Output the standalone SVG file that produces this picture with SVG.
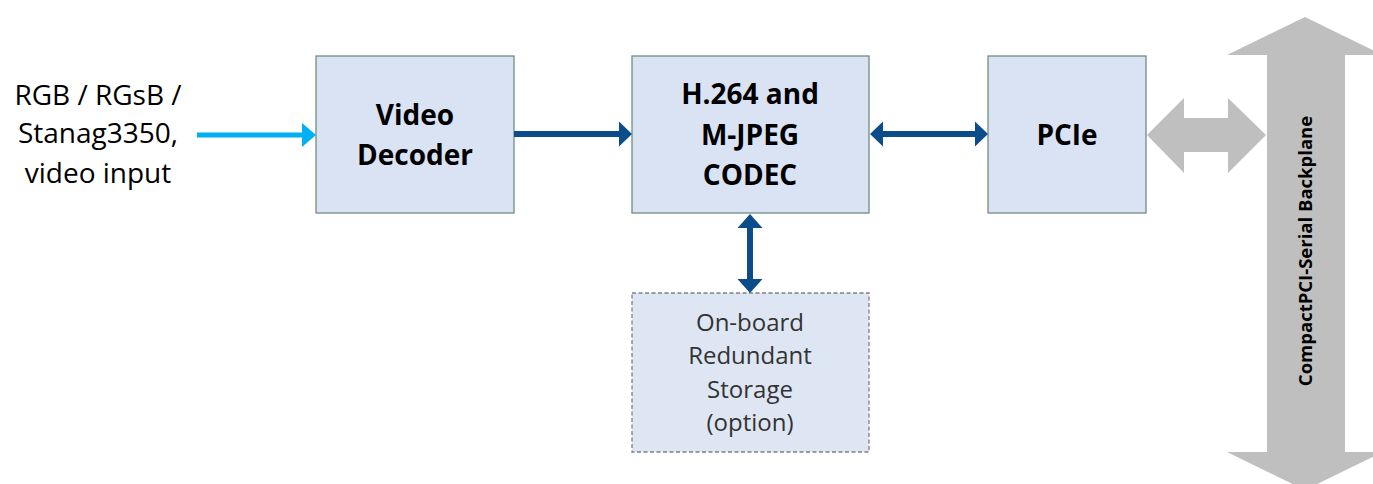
<svg xmlns="http://www.w3.org/2000/svg" width="1373" height="484" viewBox="0 0 1373 484">
<style>
.box{fill:#dae3f3;stroke:#6e8f80;stroke-width:1.3}
.opt{fill:#dfe6f3;stroke:#808080;stroke-width:1.3;stroke-dasharray:4 2.5}
.b{font-family:"Open Sans","Liberation Sans",sans-serif;font-weight:bold;font-size:28px;fill:#000;text-anchor:middle}
.r{font-family:"Open Sans","Liberation Sans",sans-serif;font-size:28px;fill:#000;text-anchor:middle}
.s{font-family:"Open Sans","Liberation Sans",sans-serif;font-size:24px;fill:#333;text-anchor:middle}
.bp{font-family:"Open Sans","Liberation Sans",sans-serif;font-weight:bold;font-size:18.5px;fill:#000;text-anchor:middle}
.dk{stroke:#0b4d8a;stroke-width:6;fill:none}
.hd{fill:#0b4d8a}
.gr{fill:#bfbfbf}
</style>
<g id="backplane">
<polygon class="gr" points="1305,17 1383,55 1345,55 1345,452 1383,452 1305,490 1227,452 1267,452 1267,55 1227,55"/>
<text class="bp" transform="translate(1312,251) rotate(-90)">CompactPCI-Serial Backplane</text>
</g>
<g id="input-label">
<text class="r" x="98" y="105">RGB / RGsB /</text>
<text class="r" x="98" y="143">Stanag3350,</text>
<text class="r" x="98" y="183">video input</text>
</g>
<g id="video-decoder">
<rect class="box" x="316" y="56" width="198" height="157"/>
<text class="b" x="415" y="125">Video</text>
<text class="b" x="415" y="165">Decoder</text>
</g>
<g id="codec">
<rect class="box" x="632" y="56" width="237" height="157"/>
<text class="b" x="750" y="104">H.264 and</text>
<text class="b" x="750" y="145">M-JPEG</text>
<text class="b" x="750" y="185">CODEC</text>
</g>
<g id="pcie">
<rect class="box" x="988" y="56" width="158" height="157"/>
<text class="b" x="1067" y="145">PCIe</text>
</g>
<g id="storage">
<rect class="opt" x="632" y="293" width="237" height="159"/>
<text class="s" x="750" y="331">On-board</text>
<text class="s" x="750" y="364">Redundant</text>
<text class="s" x="750" y="398">Storage</text>
<text class="s" x="750" y="431">(option)</text>
</g>
<g id="connectors">
<line x1="197" y1="135" x2="304" y2="135" stroke="#00b0f0" stroke-width="5"/>
<polygon fill="#00b0f0" points="316,135 302,123 302,147"/>
<line class="dk" x1="514" y1="134" x2="620" y2="134"/>
<polygon class="hd" points="632,134 619,121.5 619,146.5"/>
<line class="dk" x1="882" y1="134" x2="976" y2="134"/>
<polygon class="hd" points="870,134 883,121.5 883,146.5"/>
<polygon class="hd" points="988,134 975,121.5 975,146.5"/>
<line class="dk" x1="750" y1="226" x2="750" y2="281"/>
<polygon class="hd" points="750,214 737.5,228 762.5,228"/>
<polygon class="hd" points="750,293 737.5,279 762.5,279"/>
<polygon class="gr" points="1147,135 1184,98 1184,118 1228,118 1228,98 1266,135 1228,173 1228,152 1184,152 1184,173"/>
</g>
</svg>
